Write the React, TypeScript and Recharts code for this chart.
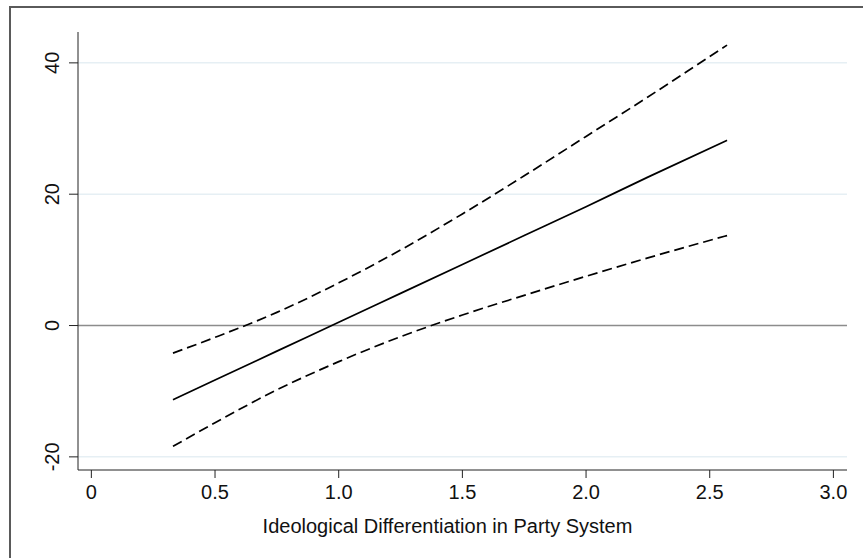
import React from 'react';
import { LineChart, Line, XAxis, YAxis, CartesianGrid, ReferenceLine } from 'recharts';

const differentiation = [0.33, 0.5, 0.75, 1.0, 1.25, 1.5, 1.75, 2.0, 2.25, 2.57];
const marginalEffect = [-11.3, -8.3, -3.9, 0.5, 4.9, 9.3, 13.7, 18.1, 22.6, 28.2];
const upperBound = [-4.2, -1.8, 2.0, 6.5, 11.5, 17.0, 22.8, 28.8, 34.8, 42.7];
const lowerBound = [-18.4, -14.8, -9.8, -5.5, -1.7, 1.6, 4.6, 7.5, 10.3, 13.7];

const xTicks = [0, 0.5, 1.0, 1.5, 2.0, 2.5, 3.0];
const yTicks = [-20, 0, 20, 40];
const gridValues = [-20, 20, 40];
const xTitle = 'Ideological Differentiation in Party System';

const FONT = '"Liberation Sans", Arial, Helvetica, sans-serif';

const data = differentiation.map((x, i) => ({
  x,
  fit: marginalEffect[i],
  hi: upperBound[i],
  lo: lowerBound[i],
}));

const YTick = (props: any) => {
  const { x, y, payload } = props;
  return (
    <text
      x={x}
      y={y}
      transform={`rotate(-90, ${x}, ${y})`}
      textAnchor="middle"
      fontSize={20}
      fontFamily={FONT}
      fill="#111"
    >
      {payload.value}
    </text>
  );
};

const XTitle = (props: any) => {
  const vb = props.viewBox || { x: 78, width: 769, y: 470 };
  return (
    <text x={vb.x + vb.width / 2 - 15} y={533} textAnchor="middle" fontSize={20} fontFamily={FONT} fill="#111">
      {xTitle}
    </text>
  );
};

export default function App() {
  return (
    <div style={{ position: 'fixed', left: 0, top: 0, width: 863, height: 558, overflow: 'hidden', background: '#fff' }}>
      <div
        style={{
          position: 'absolute',
          left: 9,
          top: 6,
          width: 900,
          height: 600,
          border: '2px solid #5a5a5a',
        }}
      />
      <div style={{ position: 'absolute', left: 0, top: 0 }}>
        <LineChart width={863} height={558} data={data} margin={{ top: 32, right: 16, bottom: 0, left: 0 }}>
          <CartesianGrid vertical={false} horizontalValues={gridValues} stroke="#e6eff4" strokeWidth={1.5} />
          <XAxis
            dataKey="x"
            type="number"
            domain={[-0.054, 3.055]}
            allowDataOverflow
            ticks={xTicks}
            tickFormatter={(v: number) => (v === 0 ? '0' : v.toFixed(1))}
            height={88}
            tickSize={8}
            tickMargin={7}
            stroke="#222"
            tick={{ fontSize: 20, fontFamily: FONT, fill: '#111' }}
            label={<XTitle />}
          />
          <YAxis
            type="number"
            domain={[-22, 44.7]}
            allowDataOverflow
            ticks={yTicks}
            width={78}
            tickSize={9}
            tickMargin={10}
            stroke="#222"
            tick={<YTick />}
          />
          <ReferenceLine y={0} stroke="#8c8c8c" strokeWidth={1.5} />
          <Line type="monotone" dataKey="hi" stroke="#000" strokeWidth={1.7} strokeDasharray="10 5" dot={false} activeDot={false} isAnimationActive={false} />
          <Line type="monotone" dataKey="lo" stroke="#000" strokeWidth={1.7} strokeDasharray="10 5" dot={false} activeDot={false} isAnimationActive={false} />
          <Line type="monotone" dataKey="fit" stroke="#000" strokeWidth={1.7} dot={false} activeDot={false} isAnimationActive={false} />
        </LineChart>
      </div>
    </div>
  );
}
